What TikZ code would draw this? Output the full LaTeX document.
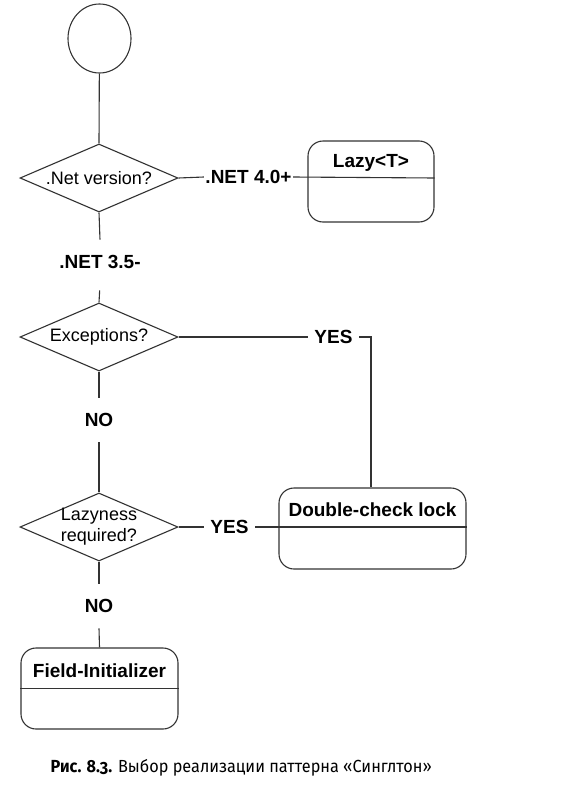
\documentclass[tikz,border=0pt]{standalone}
\usepackage{fontspec}
\setmainfont{Liberation Sans}
\newfontfamily\capfont[Numbers=OldStyle, FakeStretch=0.93]{Fira Sans}
\usetikzlibrary{shapes.geometric,positioning}

\begin{document}
\begin{tikzpicture}[x=1pt, y=-1pt, line width=1.1pt, draw=black!80,
    decision/.style={diamond, draw, minimum width=158pt, minimum height=68pt, inner sep=0pt},
    stage/.style={draw, rounded corners=15pt, minimum height=81pt, inner sep=0pt},
    stagetitle/.style={font=\fontsize{19}{21}\bfseries, inner sep=1pt},
    hlabel/.style={font=\fontsize{19}{21}\bfseries, inner xsep=6pt, inner ysep=1pt},
    vlabel/.style={font=\fontsize{19}{21}\bfseries, inner xsep=1pt, inner ysep=15pt}]
  \fontsize{18}{21}\selectfont
  \useasboundingbox (0,0) rectangle (578,798);

  % start
  \node[ellipse, draw, minimum width=63pt, minimum height=69pt, inner sep=0pt] (start) at (99.5,38.5) {};

  % decisions
  \node[decision, label=center:.Net version?] (netver) at (99,178) {};
  \node[decision, label=center:Exceptions?] (exc) at (99,337) {};
  \node[decision, label={[align=center]center:Lazyness\\required?}] (lazyq) at (99,527) {};

  % branch labels
  \node[hlabel, inner xsep=1pt] (net4) at (248.5,177) {.NET 4.0+};
  \node[vlabel] (net3) at (100,262) {.NET 3.5-};
  \node[hlabel] (yes1) at (333.5,337) {YES};
  \node[vlabel] (no1) at (99,420) {NO};
  \node[hlabel] (yes2) at (229.5,527) {YES};
  \node[vlabel] (no2) at (99,606) {NO};

  % results
  \node[stage, minimum width=126pt] (lazy) at (371,181.5) {};
  \node[stagetitle] (lazytitle) at (371,163) {Lazy<T>};
  \node[stage, minimum width=187pt] (dcl) at (372.5,528.5) {};
  \node[stagetitle] (dcltitle) at (372.5,510) {Double-check lock};
  \node[stage, minimum width=157pt] (field) at (99.5,688.5) {};
  \node[stagetitle] (fieldtitle) at (99.5,671) {Field-Initializer};

  % connectors
  \draw (start) -- (netver.north);
  \draw (netver.east) -- (net4.west);
  \draw (net4.east) -- (lazy.east |- netver);
  \draw (netver.south) -- (net3.north);
  \draw[shorten <=6pt] (net3.south) -- (exc.north);
  \draw (exc.east) -- (yes1.west);
  \draw (yes1.east) -| ([xshift=-1.5pt]dcl.north);
  \draw (exc.south) -- (no1.north);
  \draw (no1.south) -- (lazyq.north);
  \draw (lazyq.east) -- (yes2.west);
  \draw (yes2.east) -- (dcl.east |- lazyq);
  \draw (lazyq.south) -- (no2.north);
  \draw (no2.south) -- (field.north);
  \draw (field.west) -- (field.east);

  % caption
  \node[anchor=west, font=\capfont\fontsize{17.5}{20}\selectfont, inner sep=0pt] (caption) at (50,768)
    {\textbf{Рис. 8.3.} Выбор реализации паттерна «Синглтон»};
\end{tikzpicture}
\end{document}
